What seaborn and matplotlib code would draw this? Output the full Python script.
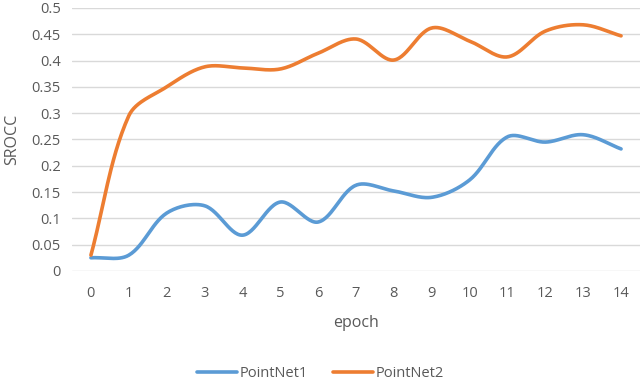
import numpy as np
import pandas as pd
import matplotlib
matplotlib.use('Agg')
import matplotlib.pyplot as plt
import seaborn as sns

epochs = list(range(15))
pointnet1 = [0.025, 0.03, 0.110, 0.124, 0.068, 0.131, 0.093, 0.163, 0.152, 0.140,
             0.173, 0.255, 0.245, 0.259, 0.232]
pointnet2 = [0.03, 0.295, 0.350, 0.388, 0.386, 0.384, 0.414, 0.441, 0.401, 0.462,
             0.437, 0.407, 0.456, 0.468, 0.447]
series_names = ['PointNet1', 'PointNet2']
colors = ['#5B9BD5', '#ED7D31']

sns.set_theme(style='white')
plt.rcParams['font.family'] = ['Open Sans', 'DejaVu Sans']

# approx pixels per data unit, used so the smoothing behaves like Excel's
SX, SY = 37.9, 526.0


def smooth(x, y, n=30):
    # Excel-like smoothed line: cubic Bezier, control arms scaled by segment length
    P = np.column_stack([np.asarray(x, float) * SX, np.asarray(y, float) * SY])
    P = np.vstack([2 * P[0] - P[1], P, 2 * P[-1] - P[-2]])
    d = np.linalg.norm(np.diff(P, axis=0), axis=1)
    t = np.linspace(0, 1, n, endpoint=False)[:, None]
    pts = []
    for i in range(1, len(P) - 2):
        p0, p1, p2, p3 = P[i - 1], P[i], P[i + 1], P[i + 2]
        c1 = p1 + (p2 - p0) * d[i] / (d[i - 1] + d[i]) / 3
        c2 = p2 - (p3 - p1) * d[i] / (d[i] + d[i + 1]) / 3
        pts.append((1 - t) ** 3 * p1 + 3 * (1 - t) ** 2 * t * c1
                   + 3 * (1 - t) * t ** 2 * c2 + t ** 3 * p2)
    pts.append(P[-2][None, :])
    pts = np.vstack(pts)
    return pts[:, 0] / SX, pts[:, 1] / SY


frames = []
for name, vals in zip(series_names, [pointnet1, pointnet2]):
    sx, sy = smooth(epochs, vals)
    frames.append(pd.DataFrame({'epoch': sx, 'SROCC': sy, 'series': name}))
df = pd.concat(frames, ignore_index=True)

fig = plt.figure(figsize=(6.4, 3.8), dpi=100)
ax = fig.add_axes([0.1125, 0.287, 0.8875, 0.692])
sns.lineplot(data=df, x='epoch', y='SROCC', hue='series', palette=colors,
             linewidth=2.6, sort=False, estimator=None, ax=ax)

ax.set_xlim(-0.5, 14.5)
ax.set_ylim(0, 0.5)
ax.set_yticks(np.arange(0, 0.51, 0.05))
ax.set_yticklabels(['0', '0.05', '0.1', '0.15', '0.2', '0.25', '0.3', '0.35',
                    '0.4', '0.45', '0.5'])
ax.set_xticks(epochs)
ax.set_xticklabels([str(e) for e in epochs])
ax.yaxis.grid(True, color='#d9d9d9', linewidth=1)
ax.set_axisbelow(True)
for s in ax.spines.values():
    s.set_visible(False)
ax.tick_params(axis='both', length=0, labelsize=10.5, colors='#595959', pad=8)
ax.tick_params(axis='x', pad=11)
ax.set_xlabel('epoch', fontsize=11.5, color='#595959', labelpad=10)
ax.set_ylabel('SROCC', fontsize=11.5, color='#595959', labelpad=8)

handles, labels = ax.get_legend_handles_labels()
ax.legend(handles, labels, loc='lower center', bbox_to_anchor=(0.437, -0.47),
          ncol=2, frameon=False, fontsize=10.5, labelcolor='#595959',
          handlelength=2.8, handletextpad=0.15, columnspacing=1.7)

fig.savefig('out.png', dpi=100)
